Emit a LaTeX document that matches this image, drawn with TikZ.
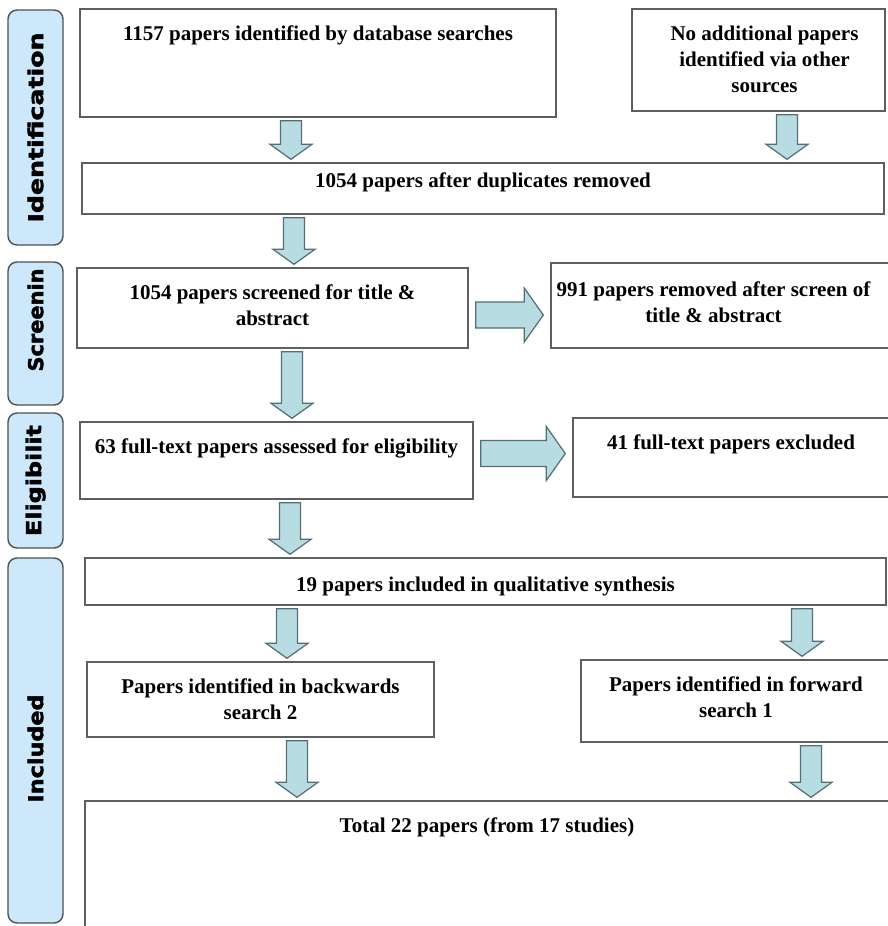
\documentclass[tikz,border=0pt]{standalone}
\usepackage{fontspec}
\setmainfont{Liberation Serif}
\newfontfamily\stagefont{DejaVu Sans}[BoldFeatures={FakeBold=2}]
\usepackage{graphicx}
\usepackage{tikz}
\usetikzlibrary{calc}

\definecolor{boxline}{RGB}{95,95,95}
\definecolor{arrowfill}{RGB}{183,221,227}
\definecolor{arrowline}{RGB}{85,110,115}
\definecolor{stagefill}{RGB}{204,232,250}
\definecolor{stageline}{RGB}{80,80,80}

% block arrow pointing down: x position, upper node, lower node
\newcommand{\fatdown}[3]{%
    \draw[fatarrow] ($(#1-10.5,0 |- #2.south)+(0,3)$) -- ($(#1+10.5,0 |- #2.south)+(0,3)$)
        -- ($(#1+10.5,0 |- #3.north)+(0,-18)$) -- ($(#1+21,0 |- #3.north)+(0,-18)$)
        -- ($(#1,0 |- #3.north)+(0,-3)$) -- ($(#1-21,0 |- #3.north)+(0,-18)$)
        -- ($(#1-10.5,0 |- #3.north)+(0,-18)$) -- cycle;
}
% block arrow pointing right: y position, left node, right node
\newcommand{\fatright}[3]{%
    \draw[fatarrow] ($(#2.east |- 0,#1-13)+(7,0)$) -- ($(#3.west |- 0,#1-13)+(-26,0)$)
        -- ($(#3.west |- 0,#1-27)+(-26,0)$) -- ($(#3.west |- 0,#1)+(-7,0)$)
        -- ($(#3.west |- 0,#1+27)+(-26,0)$) -- ($(#3.west |- 0,#1+13)+(-26,0)$)
        -- ($(#2.east |- 0,#1+13)+(7,0)$) -- cycle;
}

\begin{document}
\begin{tikzpicture}[x=1pt,y=-1pt]
    % Define styles for the boxes, the stage tabs and the block arrows
    \tikzstyle{box} = [rectangle, draw=boxline, line width=1.4pt, inner sep=0pt]
    \tikzstyle{boxtext} = [anchor=north, inner sep=0pt, yshift=-17pt, align=center, font=\fontsize{21}{26}\selectfont\bfseries]
    \tikzstyle{stage} = [rectangle, rounded corners=9pt, draw=stageline, line width=1.4pt, fill=stagefill, rotate=90, minimum height=55pt, inner sep=0pt, font=\stagefont\fontsize{21}{25}\selectfont\bfseries]
    \tikzstyle{fatarrow} = [draw=arrowline, fill=arrowfill, line width=1.2pt, line join=miter]

    \clip (0,0) rectangle (888,926);

    % Draw the stage tabs
    \node[stage, minimum width=235pt] (identification) at (35.5,127.5) {\resizebox{190pt}{15.5pt}{Identification}};
    \node[stage, minimum width=143pt] (screening) at (35.5,333.5) {\hspace*{27pt}\resizebox{103pt}{15.5pt}{Screenin}};
    \node[stage, minimum width=135pt] (eligibility) at (35.5,480.5) {\resizebox{111pt}{15.5pt}{Eligibilit}};
    \node[stage, minimum width=365pt] (included) at (35.5,740.5) {\resizebox{108pt}{15.5pt}{Included}\hspace*{16pt}};

    % Draw the boxes
    \node[box, minimum width=476pt, minimum height=108pt, label={[boxtext]north:1157 papers identified by database searches}] (search) at (318,63) {};
    \node[box, minimum width=253pt, minimum height=102pt, label={[boxtext, xshift=6pt]north:No additional papers\\identified via other\\sources}] (other) at (758.5,60) {};
    \node[box, minimum width=802pt, minimum height=51pt, label={[boxtext, yshift=7pt]north:1054 papers after duplicates removed}] (dedup) at (483,188.5) {};
    \node[box, minimum width=391pt, minimum height=80pt, label={[boxtext]north:1054 papers screened for title \&\\abstract}] (screened) at (272.5,308) {};
    \node[box, minimum width=349pt, minimum height=85pt, label={[boxtext, xshift=-12pt, yshift=-2pt]north:991 papers removed after screen of\\title \& abstract}] (removed) at (725.5,305.5) {};
    \node[box, minimum width=393pt, minimum height=77pt, label={[boxtext]north:63 full-text papers assessed for eligibility}] (assessed) at (276.5,460.5) {};
    \node[box, minimum width=327pt, minimum height=79pt, label={[boxtext, xshift=-5.5pt]north:41 full-text papers excluded}] (excluded) at (736.5,457.5) {};
    \node[box, minimum width=801pt, minimum height=47pt, label={[boxtext, yshift=-2pt]north:19 papers included in qualitative synthesis}] (qualitative) at (485.5,581.5) {};
    \node[box, minimum width=347pt, minimum height=75pt, label={[boxtext]north:Papers identified in backwards\\search 2}] (backwards) at (260.5,699.5) {};
    \node[box, minimum width=319pt, minimum height=82pt, label={[boxtext, xshift=-4.5pt]north:Papers identified in forward\\search 1}] (forward) at (740.5,701) {};
    \node[box, minimum width=815pt, minimum height=139pt, label={[boxtext, xshift=-5.5pt]north:Total 22 papers (from 17 studies)}] (total) at (492.5,870.5) {};

    % Draw the block arrows between the boxes
    \foreach \x/\a/\b in {291/search/dedup, 787/other/dedup, 294/dedup/screened, 292/screened/assessed, 290/assessed/qualitative, 287/qualitative/backwards, 802/qualitative/forward, 297/backwards/total, 811/forward/total} {
        \fatdown{\x}{\a}{\b}
    }
    \fatright{315}{screened}{removed}
    \fatright{453.5}{assessed}{excluded}
\end{tikzpicture}
\end{document}
